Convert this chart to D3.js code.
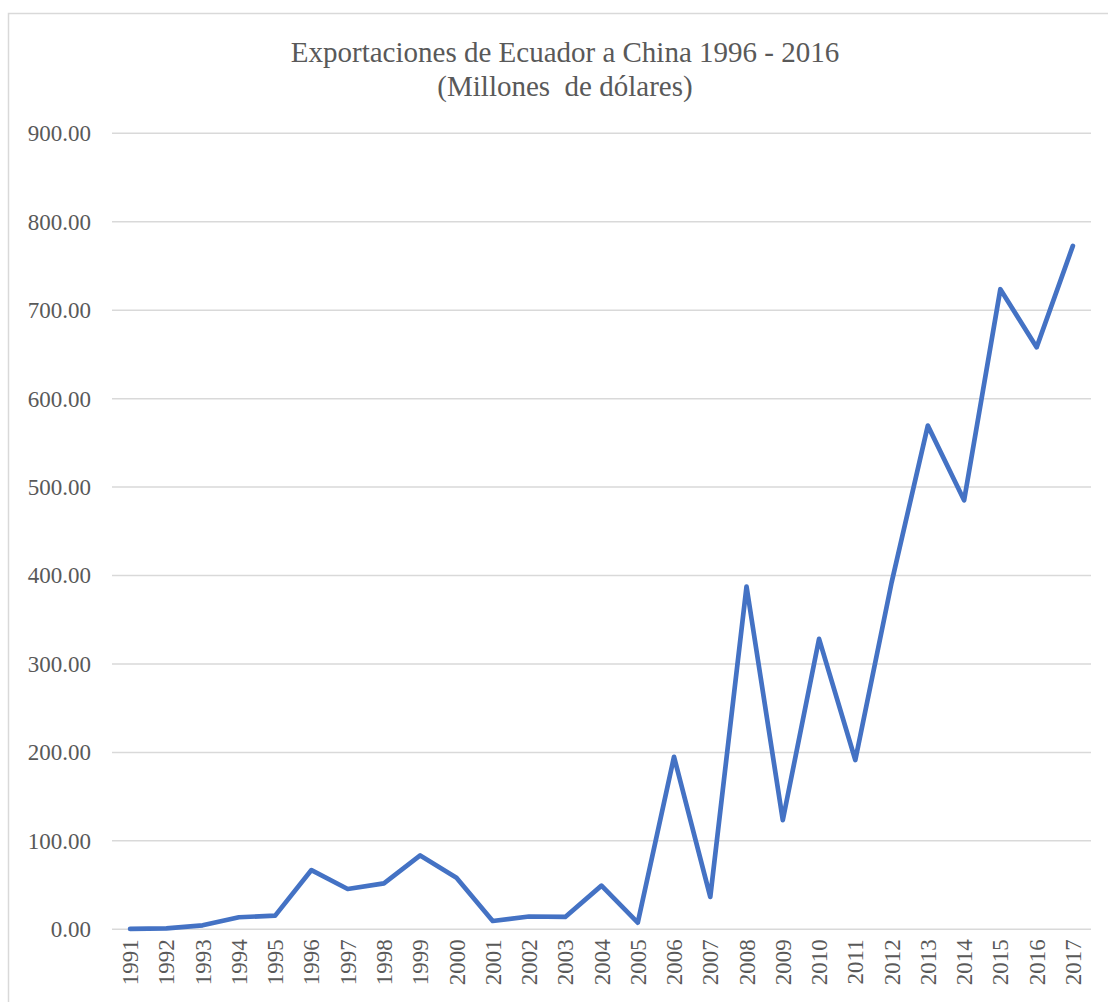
<!DOCTYPE html>
<html>
<head>
  <meta charset="utf-8">
  <title>Exportaciones de Ecuador a China</title>
  <script src="https://cdn.jsdelivr.net/npm/d3@7"></script>
  <style>
    html, body { margin: 0; padding: 0; background: #fff; }
    svg { display: block; }
    text { font-family: "Liberation Serif", "Times New Roman", serif; fill: #595959; }
  </style>
</head>
<body>
<svg id="chart" width="1108" height="1002"></svg>
<script>
  // years on the category axis
  var years = ['1991', '1992', '1993', '1994', '1995', '1996', '1997', '1998', '1999',
               '2000', '2001', '2002', '2003', '2004', '2005', '2006', '2007', '2008',
               '2009', '2010', '2011', '2012', '2013', '2014', '2015', '2016', '2017'];

  // exports, millions of dollars
  var exportsMM = [0.5, 1, 4.5, 13.6, 15.5, 67, 45.6, 52, 83.5, 58.4, 9.4, 14.5, 14,
                   49.4, 7.5, 195, 36.6, 387.6, 123.4, 328.4, 191.4, 392, 569.5, 485,
                   723.7, 658, 772.7];

  var yTicks = [0, 100, 200, 300, 400, 500, 600, 700, 800, 900];
  var titleLines = ['Exportaciones de Ecuador a China 1996 - 2016', '(Millones  de dólares)'];

  var svg = d3.select('#chart');

  // outer chart frame (runs off the right and bottom of the picture)
  svg.append('rect')
      .attr('x', 8.5)
      .attr('y', 13.5)
      .attr('width', 1114)
      .attr('height', 1010)
      .attr('fill', 'none')
      .attr('stroke', '#d9d9d9')
      .attr('stroke-width', 1.5);

  var plot = {left: 112, right: 1091, top: 133.3, bottom: 929.3};

  var x = d3.scaleBand()
      .domain(years)
      .range([plot.left, plot.right]);

  var y = d3.scaleLinear()
      .domain([0, 900])
      .range([plot.bottom, plot.top]);

  // title
  svg.append('g').selectAll('text')
      .data(titleLines)
    .enter().append('text')
      .attr('x', 565)
      .attr('y', function(d, i) { return 62 + i * 34; })
      .attr('text-anchor', 'middle')
      .style('font-size', '29px')
      .style('white-space', 'pre')
      .text(function(d) { return d; });

  // gridlines
  svg.append('g').selectAll('line')
      .data(yTicks)
    .enter().append('line')
      .attr('x1', plot.left)
      .attr('x2', plot.right)
      .attr('y1', function(d) { return y(d); })
      .attr('y2', function(d) { return y(d); })
      .attr('stroke', '#d9d9d9')
      .attr('stroke-width', 1.5);

  // y axis labels
  var yAxis = d3.axisLeft(y)
      .tickValues(yTicks)
      .tickSize(0)
      .tickPadding(0)
      .tickFormat(d3.format('.2f'));

  svg.append('g')
      .attr('transform', 'translate(91,0)')
      .call(yAxis)
      .call(function(g) {
        g.select('.domain').remove();
        g.selectAll('text')
            .attr('fill', '#595959')
            .style('font-family', '"Liberation Serif", "Times New Roman", serif')
            .style('font-size', '23px');
      });

  // x axis labels, rotated
  var xAxis = d3.axisBottom(x).tickSize(0).tickPadding(0);

  svg.append('g')
      .attr('transform', 'translate(0,' + plot.bottom + ')')
      .call(xAxis)
      .call(function(g) {
        g.select('.domain').remove();
        g.selectAll('text')
            .attr('fill', '#595959')
            .style('font-family', '"Liberation Serif", "Times New Roman", serif')
            .style('font-size', '23px')
            .attr('text-anchor', 'end')
            .attr('x', -10)
            .attr('y', 0)
            .attr('dy', '0.35em')
            .attr('transform', 'rotate(-90)');
      });

  // the series line
  var line = d3.line()
      .x(function(d, i) { return x(years[i]) + x.bandwidth() / 2; })
      .y(function(d) { return y(d); });

  svg.append('path')
      .datum(exportsMM)
      .attr('d', line)
      .attr('fill', 'none')
      .attr('stroke', '#4472c4')
      .attr('stroke-width', 4.7)
      .attr('stroke-linejoin', 'round')
      .attr('stroke-linecap', 'round');
</script>
</body>
</html>
